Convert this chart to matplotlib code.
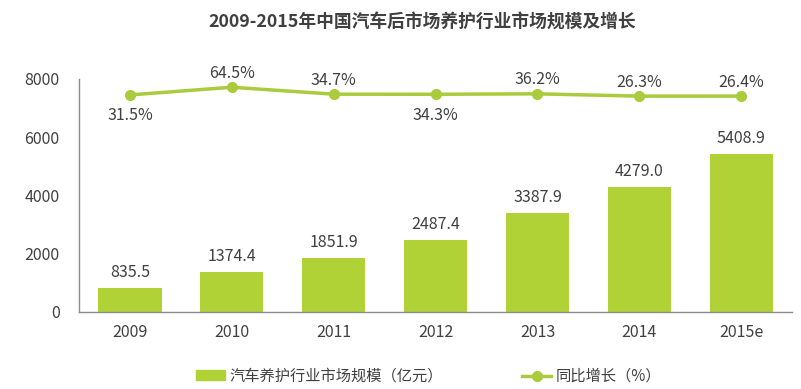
import matplotlib
matplotlib.use("Agg")
import matplotlib.pyplot as plt
import numpy as np
from matplotlib.lines import Line2D
from matplotlib.patches import Patch

plt.rcParams['font.family'] = ['Noto Sans CJK SC', 'DejaVu Sans']

# data
years = ["2009", "2010", "2011", "2012", "2013", "2014", "2015e"]
market_size = [835.5, 1374.4, 1851.9, 2487.4, 3387.9, 4279.0, 5408.9]
growth = [31.5, 64.5, 34.7, 34.3, 36.2, 26.3, 26.4]
label_below = [True, False, False, True, False, False, False]

bar_color = "#b0d236"
line_color = "#a9cb3c"
text_color = "#404040"

fig = plt.figure(figsize=(8.01, 3.89), dpi=100)
ax = fig.add_axes([0.0986, 0.198, 0.8904, 0.599])
x = np.arange(len(years))

ax.bar(x, market_size, width=0.62, color=bar_color, zorder=2)
for xi, v in zip(x, market_size):
    ax.annotate(f"{v:.1f}", (xi, v), xytext=(0, 5), textcoords="offset points",
                ha="center", va="bottom", fontsize=11.5, color=text_color)

ax.set_xlim(-0.5, len(years) - 0.5)
ax.set_ylim(0, 8000)
ax.set_yticks([0, 2000, 4000, 6000, 8000])
ax.set_xticks(x, years)
ax.tick_params(axis="both", length=0, labelsize=11.5, labelcolor=text_color)
ax.tick_params(axis="x", pad=9)
ax.tick_params(axis="y", pad=14)
for s in ["top", "right"]:
    ax.spines[s].set_visible(False)
for s in ["left", "bottom"]:
    ax.spines[s].set_color("#8c8c8c")
    ax.spines[s].set_linewidth(1.0)

# growth line on hidden secondary axis
ax2 = ax.twinx()
ax2.set_ylim(-900, 100)
ax2.axis("off")
ax2.plot(x, growth, color=line_color, lw=2.5, marker="o", ms=7, zorder=3)
for xi, g, below in zip(x, growth, label_below):
    off = -9 if below else 4
    ax2.annotate(f"{g:.1f}%", (xi, g), xytext=(0, off), textcoords="offset points",
                 ha="center", va="top" if below else "bottom",
                 fontsize=11.5, color=text_color)

fig.text(0.527, 0.943, "2009-2015年中国汽车后市场养护行业市场规模及增长",
         ha="center", va="center", fontsize=12.8, fontweight="bold", color=text_color)

handles = [Patch(color=bar_color),
           Line2D([0], [0], color=line_color, lw=2.5, marker="o", ms=7)]
labels = ["汽车养护行业市场规模（亿元）", "同比增长（%）"]
fig.legend(handles, labels, loc="center", bbox_to_anchor=(0.535, 0.033), ncol=2,
           frameon=False, fontsize=11, handlelength=1.9, handleheight=0.6,
           columnspacing=5.2, handletextpad=0.3, labelcolor=text_color)

fig.savefig("out.png", dpi=100)
